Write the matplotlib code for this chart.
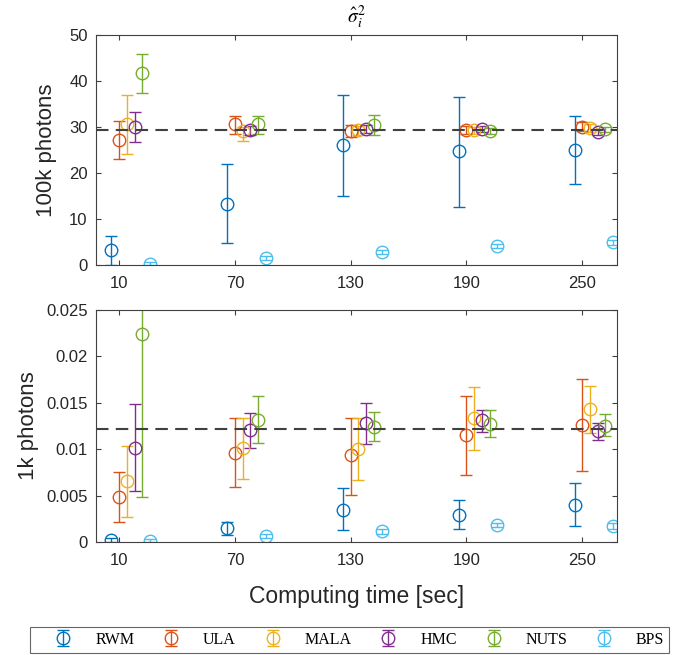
import matplotlib
matplotlib.use("Agg")
import matplotlib.pyplot as plt
import numpy as np

plt.rcParams['font.family'] = ['Liberation Sans', 'DejaVu Sans']
plt.rcParams['mathtext.fontset'] = 'stix'

# Computing times and method names
times = [10, 70, 130, 190, 250]
methods = ["RWM", "ULA", "MALA", "HMC", "NUTS", "BPS"]
offsets = [-4, 0, 4, 8, 12, 16]  # small shift per method so bars don't overlap
colors = ["#0072BD", "#D95319", "#EDB120", "#7E2F8E", "#77AC30", "#4DBEEE"]

# 100k photons: estimate, lower and upper end of error bar (rows = methods)
mean_100k = [[3.3, 13.3, 26.1, 24.7, 25.0],
             [27.2, 30.6, 29.2, 29.4, 30.1],
             [30.6, 29.2, 29.3, 29.3, 29.8],
             [29.9, 29.3, 29.6, 29.6, 28.9],
             [41.8, 30.6, 30.4, 29.1, 29.5],
             [0.3, 1.5, 2.8, 4.1, 4.9]]
lo_100k = [[0.0, 4.7, 14.9, 12.7, 17.7],
           [23.0, 28.5, 27.9, 28.5, 29.2],
           [24.1, 27.0, 28.3, 28.5, 29.0],
           [26.7, 28.2, 28.8, 28.9, 28.2],
           [37.3, 28.5, 28.3, 28.4, 28.9],
           [0.0, 1.0, 2.3, 3.6, 4.4]]
hi_100k = [[6.3, 22.0, 36.9, 36.6, 32.5],
           [31.4, 32.5, 30.5, 30.3, 31.0],
           [37.0, 30.1, 30.3, 30.1, 30.6],
           [33.3, 30.2, 30.4, 30.3, 29.6],
           [45.9, 32.5, 32.6, 29.8, 30.1],
           [0.6, 2.0, 3.3, 4.6, 5.4]]
ref_100k = 29.3

# 1k photons
mean_1k = [[0.0002, 0.00148, 0.00349, 0.00295, 0.00403],
           [0.00489, 0.00963, 0.00934, 0.01157, 0.01258],
           [0.00654, 0.01013, 0.01006, 0.01336, 0.01433],
           [0.01013, 0.01211, 0.01283, 0.01311, 0.01193],
           [0.02246, 0.01319, 0.01239, 0.01276, 0.0125],
           [0.00015, 0.00065, 0.00115, 0.00187, 0.00172]]
lo_1k = [[0.0, 0.00072, 0.00126, 0.00144, 0.00173],
         [0.00216, 0.0059, 0.00511, 0.00726, 0.00762],
         [0.00266, 0.00683, 0.00665, 0.00988, 0.01179],
         [0.00546, 0.0101, 0.01053, 0.01185, 0.01104],
         [0.00482, 0.01071, 0.01085, 0.01131, 0.01142],
         [0.0, 0.0004, 0.0009, 0.0016, 0.0014]]
hi_1k = [[0.0004, 0.00216, 0.00579, 0.00453, 0.00633],
         [0.00759, 0.0134, 0.0134, 0.01578, 0.01761],
         [0.01035, 0.0134, 0.0134, 0.01667, 0.01681],
         [0.01487, 0.01394, 0.01498, 0.01419, 0.01283],
         [0.0401, 0.01578, 0.01405, 0.01419, 0.01376],
         [0.0003, 0.0009, 0.0014, 0.0021, 0.002]]
ref_1k = 0.0122

yticks_100k = [0, 10, 20, 30, 40, 50]
yticks_1k = [0, 0.005, 0.01, 0.015, 0.02, 0.025]
ytick_labels_1k = ["0", "0.005", "0.01", "0.015", "0.02", "0.025"]

fig = plt.figure(figsize=(6.74, 6.55), dpi=100)
ax1 = fig.add_axes([0.1424, 0.5954, 0.773, 0.3511])
ax2 = fig.add_axes([0.1424, 0.1725, 0.773, 0.3542])


def draw_panel(ax, mean, lo, hi, ref):
    handles = []
    for k in range(len(methods)):
        x = np.array(times) + offsets[k]
        m = np.array(mean[k])
        err = [m - np.array(lo[k]), np.array(hi[k]) - m]
        h = ax.errorbar(x, m, yerr=err, fmt='o', color=colors[k], mfc='none',
                        ms=9, mew=1.0, elinewidth=1.0, capsize=4.5, capthick=1.0,
                        label=methods[k])
        handles.append(h)
    ax.axhline(ref, color='#404040', lw=1.5, dashes=(6, 3.5), zorder=5)
    ax.set_xlim(-2, 268)
    ax.set_xticks(times)
    ax.tick_params(direction='in', top=True, right=True, length=3.5,
                   width=0.8, color='#404040', labelcolor='#262626', labelsize=12)
    ax.tick_params(axis='x', pad=8)
    ax.tick_params(axis='y', pad=6)
    for sp in ax.spines.values():
        sp.set_color('#404040')
        sp.set_linewidth(0.8)
    return handles


handles = draw_panel(ax1, mean_100k, lo_100k, hi_100k, ref_100k)
ax1.set_ylim(0, 50)
ax1.set_yticks(yticks_100k)
ax1.set_ylabel("100k photons", fontsize=16, color='#262626', labelpad=9)
ax1.set_title(r'$\hat{\sigma}_i^2$', fontsize=14, pad=9)

draw_panel(ax2, mean_1k, lo_1k, hi_1k, ref_1k)
ax2.set_ylim(0, 0.025)
ax2.set_yticks(yticks_1k)
ax2.set_yticklabels(ytick_labels_1k)
ax2.set_ylabel("1k photons", fontsize=16, color='#262626', labelpad=5)
ax2.set_xlabel("Computing time [sec]", fontsize=16.5, color='#262626', labelpad=12)

leg = fig.legend(handles, methods, loc='center', bbox_to_anchor=(0.5186, 0.0229),
                 ncol=6, frameon=True, fancybox=False, edgecolor='#404040',
                 prop={'family': 'Liberation Serif', 'size': 11.5},
                 handlelength=3.6, handletextpad=0.2, columnspacing=0.5,
                 borderpad=0.3)
leg.get_frame().set_linewidth(0.8)

fig.savefig("out.png", dpi=100)
